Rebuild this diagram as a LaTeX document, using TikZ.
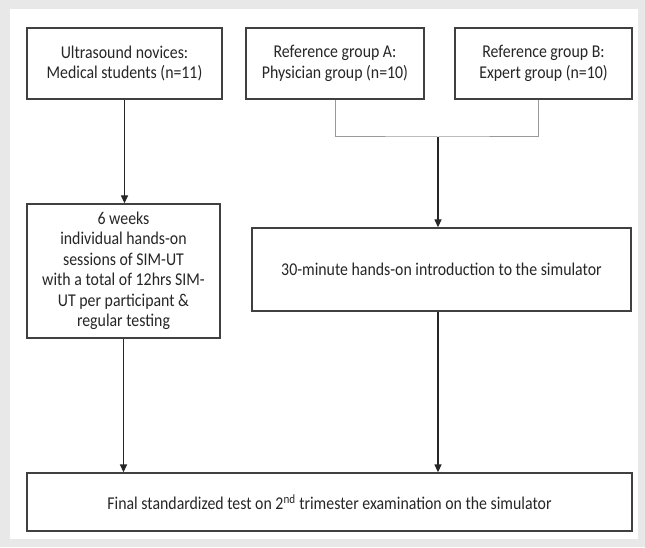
\documentclass[tikz,border=0pt]{standalone}
\usepackage{fontspec}
\setmainfont{Carlito}[FakeStretch=0.88]
\usetikzlibrary{arrows.meta}

\tikzset{
  stage/.style={draw=black!75, line width=1.3pt, align=center, inner sep=0pt,
    text=black!85, font=\fontsize{18}{20.5}\selectfont},
  flow/.style={black!85, line width=1.3pt, -{Triangle[length=8pt,width=7pt]}},
  merge/.style={black!40, line width=1pt}
}

\begin{document}
\begin{tikzpicture}[x=1pt,y=1pt]
  % Draw frame
  \fill[black!9] (0,0) rectangle (645,547);
  \fill[white] (10,8) rectangle (638,538);
  \useasboundingbox (0,0) rectangle (645,547);

  % Draw top boxes
  \node (novices) [stage, minimum width=195pt, minimum height=71pt] at (124.5,483.5)
        {Ultrasound novices:\\Medical students (n=11)};
  \node (refA) [stage, minimum width=178pt, minimum height=71pt] at (335,483.5)
        {Reference group A:\\Physician group (n=10)};
  \node (refB) [stage, minimum width=177pt, minimum height=71pt] at (543.5,483.5)
        {Reference group B:\\Expert group (n=10)};

  % Draw middle boxes
  \node (training) [stage, minimum width=193pt, minimum height=134pt] at (123.5,276)
        {6 weeks\\individual hands-on\\sessions of SIM-UT\\with a total of 12hrs SIM-\\UT per participant \&\\regular testing};
  \node (intro) [stage, minimum width=379pt, minimum height=83pt] at (441.5,277.5)
        {30-minute hands-on introduction to the simulator};

  % Draw bottom box
  \node (final) [stage, minimum width=605pt, minimum height=58pt] at (329.5,45)
        {Final standardized test on 2\textsuperscript{nd} trimester examination on the simulator};

  % Join reference groups
  \coordinate (join) at (438,410);
  \draw[merge] (refA.south) |- (join) -| ([xshift=-5.5pt]refB.south);

  % Draw arrows
  \draw[flow] (novices.south) -- (novices.south |- training.north);
  \draw[flow] (join) -- (join |- intro.north);
  \draw[flow] (training.south) -- (training.south |- final.north);
  \draw[flow] (intro.south -| join) -- (join |- final.north);
\end{tikzpicture}
\end{document}
